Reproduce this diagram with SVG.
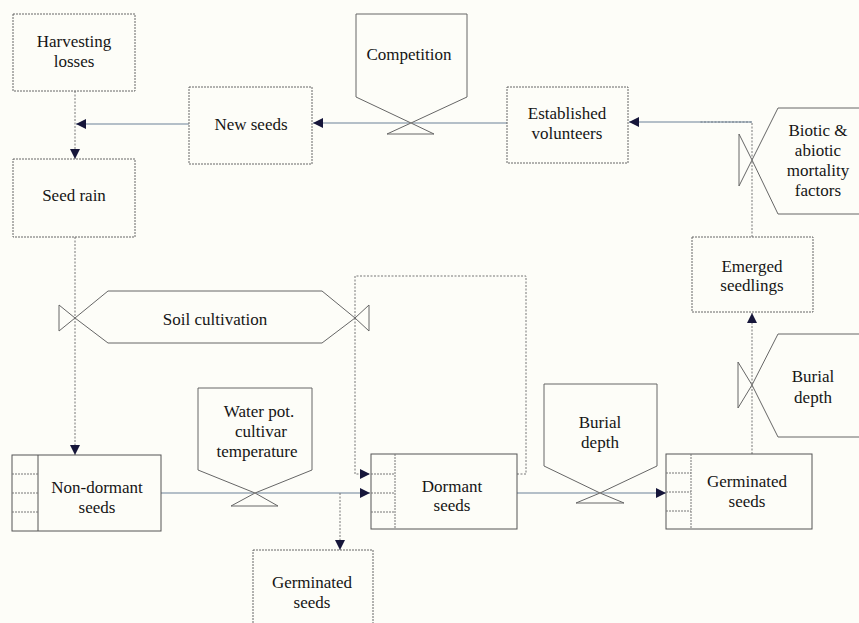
<svg xmlns="http://www.w3.org/2000/svg" width="859" height="623" viewBox="0 0 859 623">
<defs>
<style>
.bg{fill:#fdfdf8}
.box{fill:none;stroke:#666;stroke-width:1;stroke-dasharray:2 1}
.boxs{fill:none;stroke:#555;stroke-width:1}
.inf{fill:#fdfdf8;stroke:#666;stroke-width:1}
.div{stroke:#777;stroke-width:1;stroke-dasharray:2 1;fill:none}
.flow{fill:none;stroke:#6c8198;stroke-width:1.2}
.dot{fill:none;stroke:#777;stroke-width:1;stroke-dasharray:2 1.5}
text{font-size:17px;fill:#151515;text-anchor:middle}
</style>
<marker id="ah" viewBox="0 0 10 10" refX="10" refY="5" markerWidth="10" markerHeight="10" markerUnits="userSpaceOnUse" orient="auto">
<path d="M0,0 L10,5 L0,10 Z" fill="#16163a"/>
</marker>
</defs>
<rect class="bg" x="0" y="0" width="859" height="623"/>

<g id="connectors">
<line class="dot" x1="75" y1="91" x2="75" y2="159" marker-end="url(#ah)"/>
<line class="flow" x1="189" y1="124" x2="76" y2="124" marker-end="url(#ah)"/>
<line class="flow" x1="507" y1="123" x2="313" y2="123" marker-end="url(#ah)"/>
<polyline class="dot" points="752,237 752,122 700,122"/>
<line class="flow" x1="752" y1="122" x2="629" y2="122" marker-end="url(#ah)"/>
<line class="dot" x1="752" y1="454" x2="752" y2="313" marker-end="url(#ah)"/>
<line class="flow" x1="517" y1="493" x2="666" y2="493" marker-end="url(#ah)"/>
<line class="flow" x1="161" y1="493" x2="370" y2="493" marker-end="url(#ah)"/>
<line class="dot" x1="340" y1="493" x2="340" y2="550" marker-end="url(#ah)"/>
<line class="dot" x1="75" y1="237" x2="75" y2="455" marker-end="url(#ah)"/>
<polyline class="dot" points="517,474 526,474 526,276 355,276 355,474 370,474" marker-end="url(#ah)"/>
</g>

<g font-family="'Liberation Serif', 'Times New Roman', 'DejaVu Serif', serif">
<g id="harvesting-losses">
<rect class="box" x="13" y="14" width="122" height="77"/>
<text x="74" y="47">Harvesting</text>
<text x="74" y="67">losses</text>
</g>

<g id="seed-rain">
<rect class="box" x="13" y="159" width="122" height="78"/>
<text x="74" y="201">Seed rain</text>
</g>

<g id="new-seeds">
<rect class="box" x="189" y="87" width="123" height="77"/>
<text x="251" y="130">New seeds</text>
</g>

<g id="competition">
<polygon class="inf" points="356,14 467,14 467,97 411,123 356,97"/>
<path class="inf" d="M411,123 L387,134 L434,134 Z"/>
<text x="409" y="60">Competition</text>
</g>

<g id="established-volunteers">
<rect class="box" x="507" y="87" width="121" height="76"/>
<text x="567" y="119">Established</text>
<text x="567" y="139">volunteers</text>
</g>

<g id="biotic-abiotic">
<polygon class="inf" points="778,108 872,108 872,214 778,214 752,160"/>
<path class="inf" d="M752,160 L739,134 L739,186 Z"/>
<text x="818" y="136">Biotic &amp;</text>
<text x="818" y="156">abiotic</text>
<text x="818" y="176">mortality</text>
<text x="818" y="196">factors</text>
</g>

<g id="emerged-seedlings">
<rect class="box" x="692" y="237" width="121" height="75"/>
<text x="752" y="272">Emerged</text>
<text x="752" y="291">seedlings</text>
</g>

<g id="burial-depth-right">
<polygon class="inf" points="778,334 872,334 872,437 778,437 752,385"/>
<path class="inf" d="M752,385 L738,362 L738,408 Z"/>
<text x="813" y="382">Burial</text>
<text x="813" y="403">depth</text>
</g>

<g id="soil-cultivation">
<polygon class="inf" points="108,291 322,291 355,318 322,343 108,343 75,318"/>
<path class="inf" d="M75,318 L59,305 L59,331 Z"/>
<path class="inf" d="M355,318 L369,305 L369,331 Z"/>
<text x="215" y="325">Soil cultivation</text>
</g>

<g id="water-pot">
<polygon class="inf" points="198,388 312,388 312,470 255,493 198,470"/>
<path class="inf" d="M255,493 L231,506 L278,506 Z"/>
<text x="259" y="417">Water pot.</text>
<text x="261" y="437">cultivar</text>
<text x="257" y="457">temperature</text>
</g>

<g id="burial-depth-mid">
<polygon class="inf" points="544,384 657,384 657,466 600,493 544,466"/>
<path class="inf" d="M600,493 L576,503 L624,503 Z"/>
<text x="600" y="428">Burial</text>
<text x="600" y="448">depth</text>
</g>

<g id="non-dormant-seeds">
<rect class="boxs" x="12" y="455" width="149" height="76"/>
<line class="boxs" x1="38" y1="455" x2="38" y2="531"/>
<line class="div" x1="12" y1="474" x2="38" y2="474"/>
<line class="div" x1="12" y1="493" x2="38" y2="493"/>
<line class="div" x1="12" y1="512" x2="38" y2="512"/>
<text x="97" y="493">Non-dormant</text>
<text x="97" y="513">seeds</text>
</g>

<g id="dormant-seeds">
<rect class="boxs" x="371" y="454" width="146" height="75"/>
<line class="div" x1="395" y1="454" x2="395" y2="529"/>
<line class="div" x1="371" y1="474" x2="395" y2="474"/>
<line class="div" x1="371" y1="493" x2="395" y2="493"/>
<line class="div" x1="371" y1="512" x2="395" y2="512"/>
<text x="452" y="492">Dormant</text>
<text x="452" y="511">seeds</text>
</g>

<g id="germinated-seeds-right">
<rect class="boxs" x="666" y="454" width="146" height="75"/>
<line class="div" x1="691" y1="454" x2="691" y2="529"/>
<line class="div" x1="666" y1="473" x2="691" y2="473"/>
<line class="div" x1="666" y1="492" x2="691" y2="492"/>
<line class="div" x1="666" y1="511" x2="691" y2="511"/>
<text x="747" y="487">Germinated</text>
<text x="747" y="507">seeds</text>
</g>

<g id="germinated-seeds-bottom">
<rect class="box" x="253" y="550" width="120" height="80"/>
<text x="312" y="588">Germinated</text>
<text x="312" y="608">seeds</text>
</g>
</g>
</svg>
